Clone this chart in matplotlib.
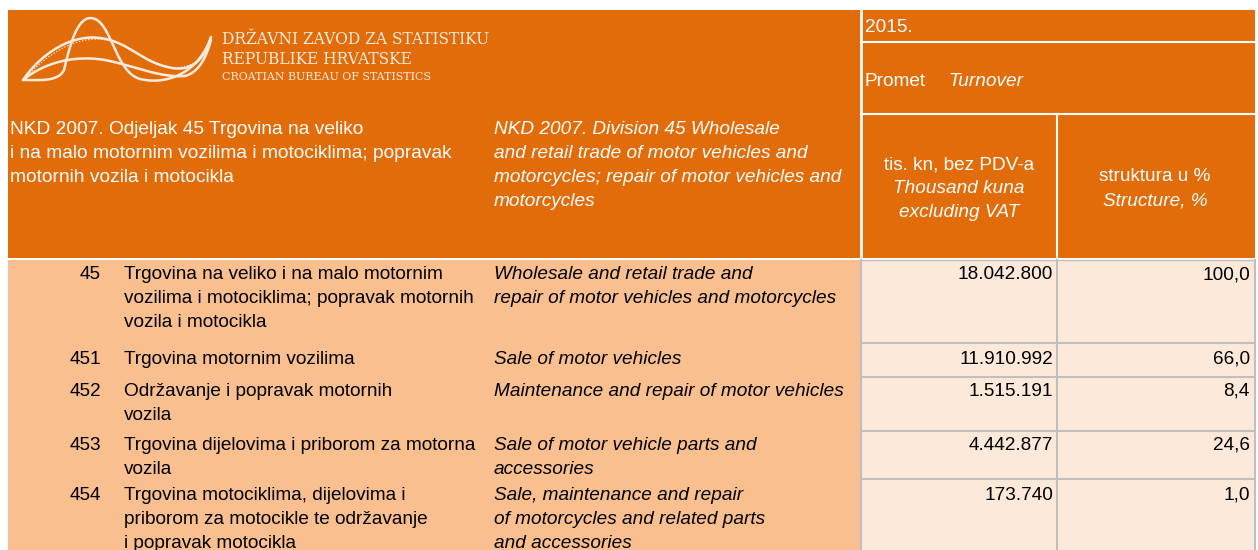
import numpy as np
import matplotlib
matplotlib.use("Agg")
import matplotlib.pyplot as plt
from matplotlib.patches import Rectangle

# ---- data ----
codes = ["45", "451", "452", "453", "454"]
labels_hr = [
    "Trgovina na veliko i na malo motornim\nvozilima i motociklima; popravak motornih\nvozila i motocikla",
    "Trgovina motornim vozilima",
    "Održavanje i popravak motornih\nvozila",
    "Trgovina dijelovima i priborom za motorna\nvozila",
    "Trgovina motociklima, dijelovima i\npriborom za motocikle te održavanje\ni popravak motocikla",
]
labels_en = [
    "Wholesale and retail trade and\nrepair of motor vehicles and motorcycles",
    "Sale of motor vehicles",
    "Maintenance and repair of motor vehicles",
    "Sale of motor vehicle parts and\naccessories",
    "Sale, maintenance and repair\nof motorcycles and related parts\nand accessories",
]
turnover = [18042800, 11910992, 1515191, 4442877, 173740]
share = [100.0, 66.0, 8.4, 24.6, 1.0]
year = "2015."

def fmt_int(v):
    return f"{v:,}".replace(",", ".")

def fmt_pct(v):
    return f"{v:.1f}".replace(".", ",")

ORANGE = "#E36C0A"
LIGHT = "#F9BF8F"
PEACH = "#FDE9D9"
GRID = "#BFBFBF"
LOGO = "#FBEBDD"
W, H = 1258, 550
FS = 13.65
FONT = "Liberation Sans"

fig = plt.figure(figsize=(W / 100, H / 100), dpi=100)
ax = fig.add_axes([0, 0, 1, 1])
ax.set_xlim(0, W)
ax.set_ylim(H, 0)
ax.axis("off")

def rect(x0, y0, x1, y1, fc):
    ax.add_patch(Rectangle((x0, y0), x1 - x0, y1 - y0, facecolor=fc, edgecolor="none"))

# header
rect(8, 10, 1255, 258, ORANGE)
ax.plot([861, 861], [10, 258], color="white", lw=2)
ax.plot([861, 1255], [42, 42], color="white", lw=1.5)
ax.plot([861, 1255], [114, 114], color="white", lw=1.5)
ax.plot([1057, 1057], [114, 258], color="white", lw=1.5)

# body
rect(8, 260, 860, H, LIGHT)
rect(861, 260, 1255, H, PEACH)
row_tops = [260, 343, 377, 431, 479]
for y in row_tops[1:]:
    ax.plot([861, 1255], [y, y], color=GRID, lw=1.5)
for x in [861, 1057, 1255]:
    ax.plot([x, x], [260, H], color=GRID, lw=1.5)
ax.plot([861, 1255], [260, 260], color=GRID, lw=1.0)

# logo curves (decorative)
t = np.linspace(0, 1, 200)
def bez(p0, p1, p2, p3):
    p0, p1, p2, p3 = map(np.array, (p0, p1, p2, p3))
    pts = ((1 - t) ** 3)[:, None] * p0 + (3 * (1 - t) ** 2 * t)[:, None] * p1 \
        + (3 * (1 - t) * t ** 2)[:, None] * p2 + (t ** 3)[:, None] * p3
    return pts[:, 0], pts[:, 1]

strands = [
    # tall "A" strand
    [((23, 80), (40, 80), (58, 82), (64, 70)), ((64, 70), (70, 45), (78, 12), (95, 19)),
     ((95, 19), (112, 26), (116, 72), (140, 79)), ((140, 79), (170, 86), (200, 70), (211, 37))],
    # upper arc
    [((23, 80), (40, 55), (70, 34), (100, 38)), ((100, 38), (130, 42), (140, 62), (172, 68)),
     ((172, 68), (195, 72), (206, 55), (211, 37))],
    # lower arc
    [((23, 80), (45, 62), (75, 55), (105, 60)), ((105, 60), (135, 66), (160, 78), (185, 76)),
     ((185, 76), (200, 72), (207, 55), (211, 40))],
]
for s in strands:
    for p in s:
        xs, ys = bez(*p)
        ax.plot(xs, ys, color=LOGO, lw=1.8, solid_capstyle="round")
xs, ys = bez((23, 80), (60, 40), (100, 25), (140, 55))
ax.plot(xs, ys, color=LOGO, lw=0.9, ls=(0, (1, 1.5)))
xs, ys = bez((140, 55), (160, 70), (180, 72), (200, 60))
ax.plot(xs, ys, color=LOGO, lw=0.9, ls=(0, (1, 1.5)))

ax.text(222, 39, "DRŽAVNI ZAVOD ZA STATISTIKU", family="DejaVu Serif", fontsize=11.2,
        color=LOGO, va="center", ha="left")
ax.text(222, 59, "REPUBLIKE HRVATSKE", family="DejaVu Serif", fontsize=11.2,
        color=LOGO, va="center", ha="left")
ax.text(222, 77, "CROATIAN BUREAU OF STATISTICS", family="DejaVu Serif", fontsize=7.9,
        color=LOGO, va="center", ha="left")

LS = 1.55
def txt(x, y, s, ha="left", color="black", style="normal", ma=None, fs=FS):
    ax.text(x, y, s, ha=ha, va="top", color=color, family=FONT, fontsize=fs,
            style=style, linespacing=LS, multialignment=ma or ha)

# header texts
txt(10, 121, "NKD 2007. Odjeljak 45 Trgovina na veliko\ni na malo motornim vozilima i motociklima; popravak\nmotornih vozila i motocikla", color="white", fs=13.8)
txt(494, 121, "NKD 2007. Division 45 Wholesale\nand retail trade of motor vehicles and\nmotorcycles; repair of motor vehicles and\nmotorcycles", color="white", style="italic")
txt(865, 19, year, color="white")
txt(865, 73, "Promet", color="white")
txt(948, 73, "Turnover", color="white", style="italic")
txt(959, 156, "tis. kn, bez PDV-a", ha="center", color="white")
txt(959, 180, "Thousand kuna\nexcluding VAT", ha="center", color="white", style="italic")
txt(1155, 168, "struktura u %", ha="center", color="white")
txt(1155, 192, "Structure, %", ha="center", color="white", style="italic")

# body texts
text_tops = [266, 351, 383, 437, 487]
for i in range(len(codes)):
    y = text_tops[i]
    txt(101, y, codes[i], ha="right")
    txt(124, y, labels_hr[i])
    txt(494, y, labels_en[i], style="italic")
    txt(1053, y, fmt_int(turnover[i]), ha="right")
    txt(1250, y, fmt_pct(share[i]), ha="right")

fig.savefig("out.png", dpi=100, facecolor="white")
